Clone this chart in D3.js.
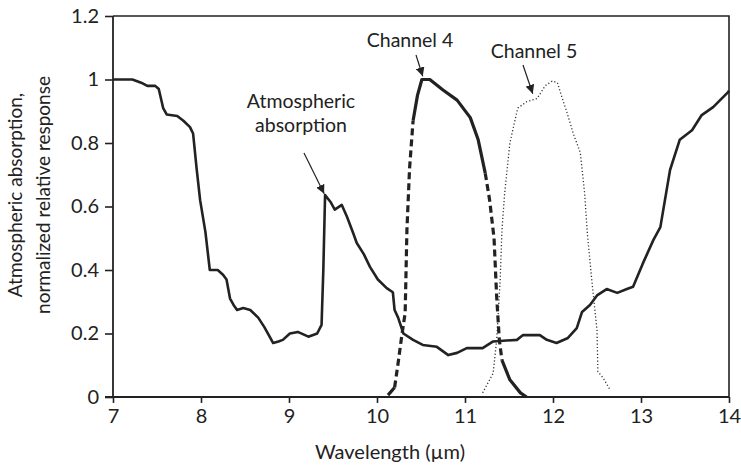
<!DOCTYPE html>
<html>
<head>
<meta charset="utf-8">
<script src="https://cdn.jsdelivr.net/npm/d3@7/dist/d3.min.js"></script>
<style>
  html, body { margin: 0; padding: 0; background: #fff; }
  svg { display: block; }
  text { font-family: Lato, "Noto Sans", sans-serif; fill: #222; }
</style>
</head>
<body>
<svg id="chart" width="741" height="468"></svg>
<script>
// Atmospheric absorption spectrum (wavelength in µm, normalized absorption)
const absWave = [7.0, 7.22, 7.32, 7.39, 7.48, 7.52, 7.57, 7.61, 7.73, 7.8, 7.875, 7.91, 7.95, 7.99, 8.05, 8.10, 8.19, 8.25, 8.29, 8.33, 8.37, 8.41, 8.48, 8.56, 8.65, 8.72, 8.78, 8.82, 8.88, 8.93, 9.01, 9.1, 9.22, 9.32, 9.37, 9.39, 9.41, 9.47, 9.52, 9.6, 9.66, 9.73, 9.77, 9.85, 9.92, 10.01, 10.11, 10.18, 10.2, 10.24, 10.3, 10.41, 10.52, 10.68, 10.81, 10.91, 11.02, 11.2, 11.32, 11.59, 11.66, 11.85, 11.93, 12.04, 12.17, 12.27, 12.33, 12.42, 12.5, 12.61, 12.73, 12.84, 12.91, 13.02, 13.14, 13.22, 13.33, 13.44, 13.58, 13.69, 13.82, 13.99, 14.0];
const absVal  = [1.0, 1.0, 0.99, 0.98, 0.98, 0.97, 0.91, 0.89, 0.885, 0.87, 0.85, 0.83, 0.72, 0.62, 0.52, 0.40, 0.40, 0.385, 0.37, 0.31, 0.29, 0.274, 0.28, 0.274, 0.25, 0.22, 0.19, 0.17, 0.175, 0.18, 0.20, 0.205, 0.19, 0.20, 0.227, 0.40, 0.636, 0.615, 0.59, 0.605, 0.567, 0.516, 0.485, 0.45, 0.41, 0.37, 0.343, 0.33, 0.274, 0.25, 0.20, 0.18, 0.164, 0.158, 0.132, 0.139, 0.154, 0.154, 0.175, 0.18, 0.195, 0.195, 0.18, 0.17, 0.186, 0.217, 0.268, 0.29, 0.32, 0.34, 0.328, 0.34, 0.347, 0.42, 0.494, 0.535, 0.715, 0.81, 0.84, 0.888, 0.913, 0.96, 0.965];

// Channel 4 relative spectral response
const ch4Wave = [10.125, 10.2, 10.24, 10.28, 10.32, 10.34, 10.37, 10.41, 10.46, 10.51, 10.6, 10.75, 10.91, 11.06, 11.15, 11.23, 11.28, 11.33, 11.36, 11.39, 11.42, 11.51, 11.63, 11.7];
const ch4Val  = [0.006, 0.03, 0.107, 0.19, 0.265, 0.526, 0.72, 0.87, 0.95, 1.0, 1.0, 0.967, 0.935, 0.88, 0.81, 0.705, 0.62, 0.50, 0.315, 0.18, 0.116, 0.054, 0.013, 0.0];

// Channel 5 relative spectral response
const ch5Wave = [11.2, 11.32, 11.36, 11.4, 11.42, 11.45, 11.51, 11.55, 11.6, 11.7, 11.82, 11.91, 11.99, 12.05, 12.1, 12.16, 12.23, 12.31, 12.36, 12.39, 12.44, 12.5, 12.51, 12.57, 12.65];
const ch5Val  = [0.013, 0.075, 0.18, 0.37, 0.526, 0.64, 0.80, 0.85, 0.91, 0.93, 0.94, 0.98, 0.995, 0.99, 0.945, 0.895, 0.83, 0.77, 0.64, 0.516, 0.37, 0.21, 0.08, 0.06, 0.022];

const xTicks = [7, 8, 9, 10, 11, 12, 13, 14];
const yTicks = [0, 0.2, 0.4, 0.6, 0.8, 1, 1.2];
const yTickLabels = ["0", "0.2", "0.4", "0.6", "0.8", "1", "1.2"];

const svg = d3.select("#chart");
const ink = "#222";

const x = d3.scaleLinear().domain([7, 14]).range([113, 729]);
const y = d3.scaleLinear().domain([0, 1.2]).range([397, 16]);

// Frame: top and right borders
svg.append("path")
  .attr("d", `M${x(7)},${y(1.2)}H${x(14)}V${y(0)}`)
  .attr("fill", "none").attr("stroke", ink).attr("stroke-width", 1.6);

// Axes
const xAxis = svg.append("g")
  .attr("transform", `translate(0,${y(0)})`)
  .call(d3.axisBottom(x).tickValues(xTicks).tickSize(6).tickPadding(6).tickFormat(d3.format("d")));
const yAxis = svg.append("g")
  .attr("transform", `translate(${x(7)},0)`)
  .call(d3.axisLeft(y).tickValues(yTicks).tickSize(8).tickPadding(6)
    .tickFormat((d, i) => yTickLabels[i]));

[xAxis, yAxis].forEach(g => {
  g.select(".domain").attr("stroke", ink).attr("stroke-width", 1.8);
  g.selectAll(".tick line").attr("stroke", ink).attr("stroke-width", 1.6);
  g.selectAll(".tick text").attr("fill", ink)
    .style("font-family", "Lato, 'Noto Sans', sans-serif").style("font-size", "20px");
});
yAxis.select(".domain").attr("d", `M0,${y(1.2)}V${y(0)}`);
xAxis.select(".domain").attr("d", `M${x(7) - 8},0H${x(14)}`);

const line = d3.line().x(d => x(d[0])).y(d => y(d[1]));
const pairs = (w, v) => w.map((d, i) => [d, v[i]]);

// Atmospheric absorption
svg.append("path")
  .datum(pairs(absWave, absVal))
  .attr("d", line)
  .attr("fill", "none").attr("stroke", ink).attr("stroke-width", 2.6)
  .attr("stroke-linejoin", "round");

// Channel 5: thin dotted
svg.append("path")
  .datum(pairs(ch5Wave, ch5Val))
  .attr("d", line)
  .attr("fill", "none").attr("stroke", "#333").attr("stroke-width", 1.3)
  .attr("stroke-dasharray", "1.2,2.2");

// Channel 4: thick, dashed on the steep flanks
const ch4 = pairs(ch4Wave, ch4Val);
const seg = (a, b) => ch4.filter(d => d[0] >= a && d[0] <= b);
[[10.1, 10.2, false], [10.2, 10.41, true], [10.41, 11.23, false], [11.23, 11.42, true], [11.42, 11.8, false]]
  .forEach(([a, b, dashed]) => {
    svg.append("path")
      .datum(seg(a, b))
      .attr("d", line)
      .attr("fill", "none").attr("stroke", ink).attr("stroke-width", 3.2)
      .attr("stroke-linejoin", "round")
      .attr("stroke-dasharray", dashed ? "7,4" : null);
  });

// Annotations
function label(lines, cx, baseline, step) {
  const t = svg.append("text").attr("text-anchor", "middle").style("font-size", "19.5px");
  lines.forEach((s, i) => t.append("tspan").attr("x", cx).attr("y", baseline + i * step).text(s));
}
label(["Atmospheric", "absorption"], 301, 108, 24);
label(["Channel 4"], 410, 47, 0);
label(["Channel 5"], 534, 58, 0);

svg.append("defs").append("marker")
  .attr("id", "head").attr("viewBox", "0 0 10 10")
  .attr("refX", 10).attr("refY", 5)
  .attr("markerWidth", 9).attr("markerHeight", 9)
  .attr("markerUnits", "userSpaceOnUse")
  .attr("orient", "auto")
  .append("path").attr("d", "M0,0L10,5L0,10Z").attr("fill", ink);

function arrow(x0, y0, wx, wy) {
  svg.append("line")
    .attr("x1", x0).attr("y1", y0)
    .attr("x2", x(wx)).attr("y2", y(wy))
    .attr("stroke", ink).attr("stroke-width", 1.2)
    .attr("marker-end", "url(#head)");
}
arrow(304, 153, 9.4, 0.64);
arrow(416, 55, 10.52, 1.01);
arrow(523, 65, 11.77, 0.955);

// Axis titles
svg.append("text")
  .attr("x", 390).attr("y", 459)
  .attr("text-anchor", "middle").style("font-size", "20px")
  .text("Wavelength (µm)");

const yt = svg.append("text")
  .attr("transform", "translate(22,195) rotate(-90)")
  .attr("text-anchor", "middle").style("font-size", "19px");
yt.append("tspan").attr("x", 0).attr("y", 0).text("Atmospheric absorption,");
yt.append("tspan").attr("x", 0).attr("y", 28).text("normalized relative response");
</script>
</body>
</html>
